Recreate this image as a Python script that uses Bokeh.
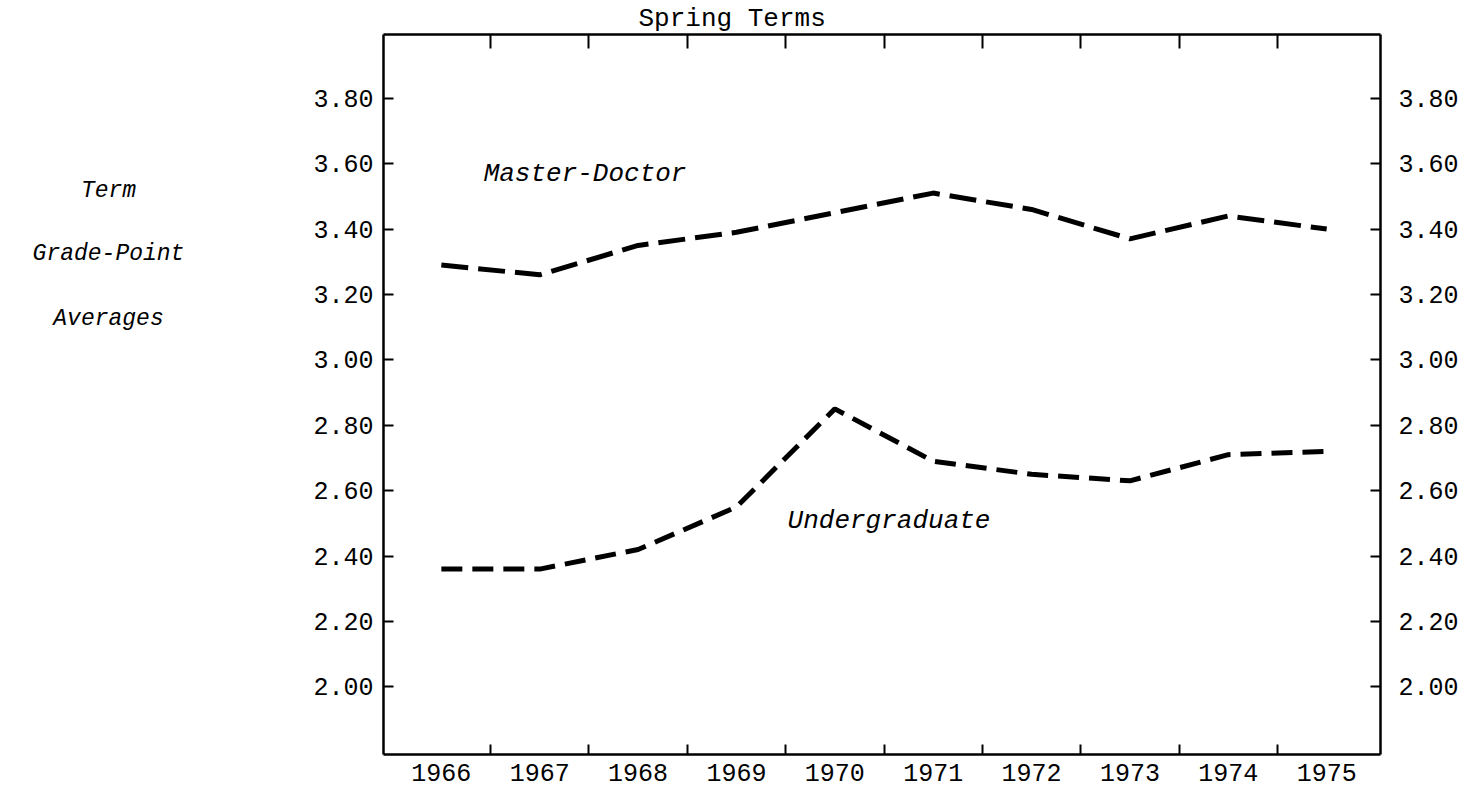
from bokeh.plotting import figure
from bokeh.layouts import row
from bokeh.models import (Range1d, LinearAxis, FixedTicker, PrintfTickFormatter,
                          Label, ColumnDataSource)
from bokeh.core.properties import value
from bokeh.embed import file_html
from bokeh.resources import INLINE

# ---- data ----
years = [1966, 1967, 1968, 1969, 1970, 1971, 1972, 1973, 1974, 1975]
master_doctor = [3.29, 3.26, 3.35, 3.39, 3.45, 3.51, 3.46, 3.37, 3.44, 3.40]
undergraduate = [2.36, 2.36, 2.42, 2.55, 2.85, 2.69, 2.65, 2.63, 2.71, 2.72]
y_ticks = [2.00, 2.20, 2.40, 2.60, 2.80, 3.00, 3.20, 3.40, 3.60, 3.80]
year_bounds = [1966.5, 1967.5, 1968.5, 1969.5, 1970.5, 1971.5, 1972.5, 1973.5, 1974.5]
title_text = "Spring Terms"
y_label_lines = ["Term", "Grade-Point", "Averages"]
y_label_pos = [3.516, 3.324, 3.126]
series_names = ["Master-Doctor", "Undergraduate"]

FONT_NAME = "Liberation Mono"
FONT = value(FONT_NAME)
Y_RANGE = (1.793, 3.995)
W, H = 1463, 796
TOP, BOTTOM = 33, 42
LEFT_W = 200
FRAME_L, FRAME_R = 383, 1380

# ---- left panel holding the vertical-axis caption ----
lf = figure(width=LEFT_W, height=H, output_backend="svg", toolbar_location=None,
            x_range=Range1d(0, LEFT_W), y_range=Range1d(*Y_RANGE),
            min_border_left=0, min_border_right=0, min_border_top=TOP,
            min_border_bottom=BOTTOM, x_axis_type=None, y_axis_type=None)
lf.outline_line_color = None
lf.xgrid.visible = False
lf.ygrid.visible = False
cap_src = ColumnDataSource(dict(x=[108] * len(y_label_lines), y=y_label_pos,
                                t=y_label_lines))
lf.text("x", "y", text="t", source=cap_src, text_font=FONT,
        text_font_size="23px", text_font_style="italic", text_align="center",
        text_baseline="middle", text_color="black")

# ---- main chart ----
p = figure(width=W - LEFT_W, height=H, output_backend="svg", toolbar_location=None,
           x_range=Range1d(1965.412, 1975.547), y_range=Range1d(*Y_RANGE),
           min_border_left=FRAME_L - LEFT_W, min_border_right=W - FRAME_R,
           min_border_top=TOP, min_border_bottom=BOTTOM,
           x_axis_type=None, y_axis_type=None)
p.outline_line_color = None
p.xgrid.visible = False
p.ygrid.visible = False
p.background_fill_color = "white"
p.border_fill_color = "white"

p.title.text = title_text
p.title.align = "left"
p.title.offset = 255
p.title.standoff = 2
p.title.text_font = FONT_NAME
p.title.text_font_size = "26px"
p.title.text_font_style = "normal"
p.title.text_color = "black"

def style_axis(ax):
    ax.axis_line_color = "black"
    ax.axis_line_width = 2.5
    ax.major_label_text_font = FONT_NAME
    ax.major_label_text_font_size = "25px"
    ax.major_label_text_color = "black"

# y axes
for side, standoff in (("left", 10), ("right", 18)):
    ax = LinearAxis(ticker=FixedTicker(ticks=y_ticks),
                    formatter=PrintfTickFormatter(format="%.2f"))
    style_axis(ax)
    ax.major_tick_in = 10
    ax.major_tick_out = 0
    ax.major_tick_line_width = 2
    ax.minor_tick_line_color = None
    ax.minor_tick_out = 0
    ax.major_label_standoff = standoff
    p.add_layout(ax, side)

# x axis (labels at years, tick marks between years)
xb = LinearAxis(ticker=FixedTicker(ticks=years, minor_ticks=year_bounds),
                formatter=PrintfTickFormatter(format="%d"))
style_axis(xb)
xb.major_tick_line_color = None
xb.major_tick_in = 0
xb.major_tick_out = 0
xb.minor_tick_line_color = "black"
xb.minor_tick_line_width = 2
xb.minor_tick_out = 0
xb.minor_tick_in = 10
xb.major_label_standoff = 9
p.add_layout(xb, "below")

xt = LinearAxis(ticker=FixedTicker(ticks=[], minor_ticks=year_bounds))
style_axis(xt)
xt.major_tick_line_color = None
xt.major_tick_in = 0
xt.major_tick_out = 0
xt.minor_tick_line_color = "black"
xt.minor_tick_line_width = 2
xt.minor_tick_out = 0
xt.minor_tick_in = 14
xt.major_label_standoff = 0
p.add_layout(xt, "above")

src = ColumnDataSource(dict(year=years, md=master_doctor, ug=undergraduate))
p.line("year", "md", source=src, line_color="black", line_width=5,
       line_dash="27 10", line_cap="butt")
p.line("year", "ug", source=src, line_color="black", line_width=5,
       line_dash="21 10", line_cap="butt")

# series labels
p.add_layout(Label(x=1966.43, y=3.568, text=series_names[0], text_font=FONT_NAME,
                   text_font_size="26px", text_font_style="italic",
                   text_align="left", text_baseline="middle", text_color="black"))
p.add_layout(Label(x=1969.52, y=2.506, text=series_names[1], text_font=FONT_NAME,
                   text_font_size="26px", text_font_style="italic",
                   text_align="left", text_baseline="middle", text_color="black"))

layout = row(lf, p, spacing=0)
open("out.html", "w").write(file_html(layout, INLINE))
